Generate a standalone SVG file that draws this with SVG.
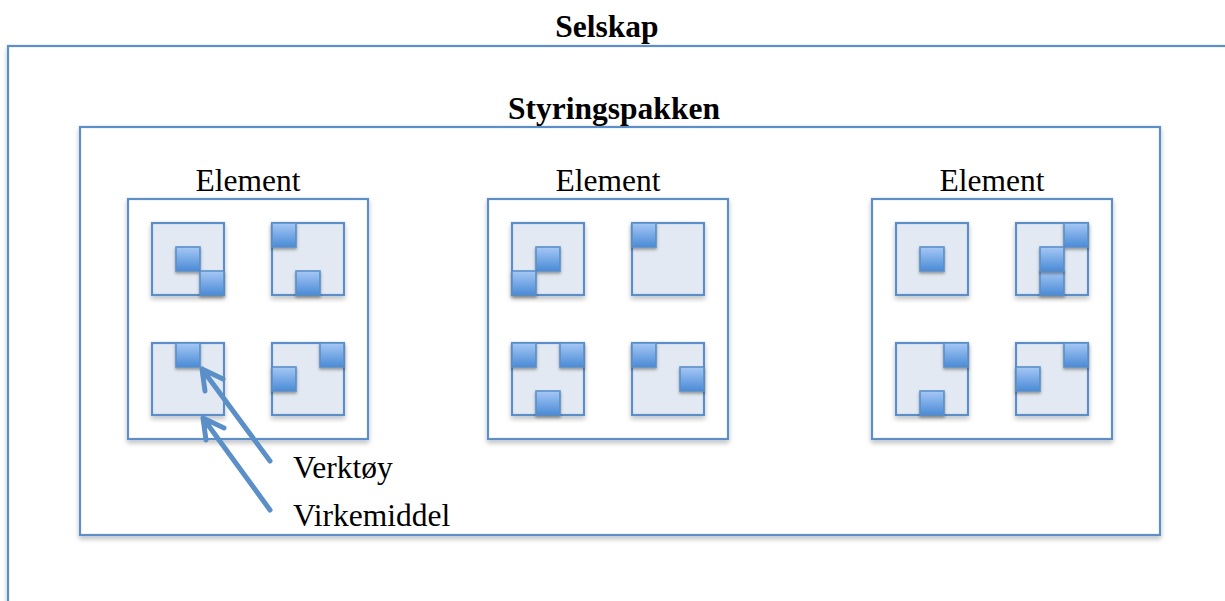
<svg xmlns="http://www.w3.org/2000/svg" width="1225" height="601" viewBox="0 0 1225 601">
<style>
.frame{fill:#ffffff;stroke:#5b8fc8;stroke-width:2.2;filter:url(#sh)}
.inner{fill:#e3e9f2;stroke:#5b8fc8;stroke-width:2.2;filter:url(#sh)}
.tool{fill:url(#g);stroke:#5b8fc8;stroke-width:1.6;filter:url(#sh2)}
.bold{font-family:"Liberation Serif","Times New Roman",serif;font-weight:bold;font-size:31.5px;fill:#000;text-anchor:middle}
.reg{font-family:"Liberation Serif","Times New Roman",serif;font-size:31.5px;fill:#000}
.arr{fill:none;stroke:#5b8fc8;stroke-width:5;stroke-linecap:round;stroke-linejoin:round}
</style>
<defs>
<linearGradient id="g" x1="0" y1="0" x2="0" y2="1">
<stop offset="0" stop-color="#a6c8f5"/>
<stop offset="1" stop-color="#4a8bd6"/>
</linearGradient>
<filter id="sh" x="-10%" y="-10%" width="120%" height="120%">
<feDropShadow dx="0" dy="3" stdDeviation="2.5" flood-color="#000" flood-opacity="0.25"/>
</filter>
<filter id="sh2" x="-30%" y="-30%" width="160%" height="160%">
<feDropShadow dx="0" dy="2" stdDeviation="1.5" flood-color="#000" flood-opacity="0.35"/>
</filter>
</defs>
<rect width="1225" height="601" fill="#fff"/>
<g id="selskap">
<rect class="frame" x="8" y="46" width="1240" height="580"/>
<text class="bold" x="607" y="37">Selskap</text>
</g>
<g id="styringspakken">
<rect class="frame" x="80" y="127" width="1080" height="408"/>
<text class="bold" x="614" y="119">Styringspakken</text>
</g>
<g id="element1">
<text class="reg" x="248" y="191" text-anchor="middle">Element</text>
<rect class="frame" x="128" y="199" width="240" height="240"/>
<rect class="inner" x="152" y="223" width="72" height="72"/>
<rect class="tool" x="176" y="247" width="24" height="24"/>
<rect class="tool" x="200" y="271" width="24" height="24"/>
<rect class="inner" x="272" y="223" width="72" height="72"/>
<rect class="tool" x="272" y="223" width="24" height="24"/>
<rect class="tool" x="296" y="271" width="24" height="24"/>
<rect class="inner" x="152" y="343" width="72" height="72"/>
<rect class="tool" x="176" y="343" width="24" height="24"/>
<rect class="inner" x="272" y="343" width="72" height="72"/>
<rect class="tool" x="320" y="343" width="24" height="24"/>
<rect class="tool" x="272" y="367" width="24" height="24"/>
</g>
<g id="element2">
<text class="reg" x="608" y="191" text-anchor="middle">Element</text>
<rect class="frame" x="488" y="199" width="240" height="240"/>
<rect class="inner" x="512" y="223" width="72" height="72"/>
<rect class="tool" x="536" y="247" width="24" height="24"/>
<rect class="tool" x="512" y="271" width="24" height="24"/>
<rect class="inner" x="632" y="223" width="72" height="72"/>
<rect class="tool" x="632" y="223" width="24" height="24"/>
<rect class="inner" x="512" y="343" width="72" height="72"/>
<rect class="tool" x="512" y="343" width="24" height="24"/>
<rect class="tool" x="560" y="343" width="24" height="24"/>
<rect class="tool" x="536" y="391" width="24" height="24"/>
<rect class="inner" x="632" y="343" width="72" height="72"/>
<rect class="tool" x="632" y="343" width="24" height="24"/>
<rect class="tool" x="680" y="367" width="24" height="24"/>
</g>
<g id="element3">
<text class="reg" x="992" y="191" text-anchor="middle">Element</text>
<rect class="frame" x="872" y="199" width="240" height="240"/>
<rect class="inner" x="896" y="223" width="72" height="72"/>
<rect class="tool" x="920" y="247" width="24" height="24"/>
<rect class="inner" x="1016" y="223" width="72" height="72"/>
<rect class="tool" x="1064" y="223" width="24" height="24"/>
<rect class="tool" x="1040" y="271" width="24" height="24"/>
<rect class="tool" x="1040" y="247" width="24" height="24"/>
<rect class="inner" x="896" y="343" width="72" height="72"/>
<rect class="tool" x="944" y="343" width="24" height="24"/>
<rect class="tool" x="920" y="391" width="24" height="24"/>
<rect class="inner" x="1016" y="343" width="72" height="72"/>
<rect class="tool" x="1064" y="343" width="24" height="24"/>
<rect class="tool" x="1016" y="367" width="24" height="24"/>
</g>
<g id="connectors">
<path class="arr" d="M270 461 L202 369 M223 379 L202 369 L205 391"/>
<path class="arr" d="M270 510 L203 418 M224 428 L203 418 L206 440"/>
</g>
<g id="labels">
<text class="reg" x="293" y="478">Verktøy</text>
<text class="reg" x="293" y="526">Virkemiddel</text>
</g>
</svg>
